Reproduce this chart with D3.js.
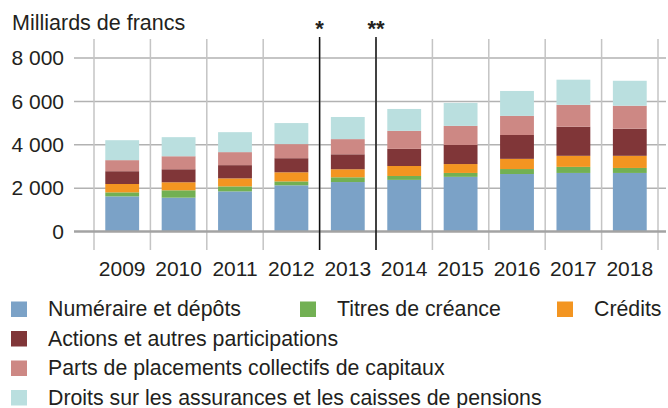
<!DOCTYPE html>
<html lang="fr">
<head>
<meta charset="UTF-8">
<title>Milliards de francs</title>
<script src="https://d3js.org/d3.v7.min.js"></script>
<style>
  body { margin: 0; background: #fff; }
  text { font-family: "Liberation Sans", Arial, sans-serif; fill: #231f20; }
</style>
</head>
<body>
<svg id="chart" width="668" height="408"></svg>
<script>
    // values, in milliards de francs
    const years = ["2009", "2010", "2011", "2012", "2013", "2014", "2015", "2016", "2017", "2018"];
    const numeraire = [1620, 1560, 1850, 2130, 2280, 2380, 2520, 2650, 2700, 2700];
    const titres = [185, 340, 230, 180, 220, 180, 180, 230, 280, 230];
    const credits = [385, 370, 370, 420, 370, 460, 410, 470, 510, 560];
    const actions = [590, 600, 610, 650, 690, 790, 880, 1100, 1340, 1250];
    const parts = [510, 600, 600, 650, 700, 830, 880, 880, 1010, 1060];
    const droits = [920, 880, 920, 970, 1020, 1010, 1060, 1150, 1160, 1150];

    const seriesNames = [
        "Numéraire et dépôts",
        "Titres de créance",
        "Crédits",
        "Actions et autres participations",
        "Parts de placements collectifs de capitaux",
        "Droits sur les assurances et les caisses de pensions"
    ];
    const colours = ["#7ba2c7", "#72b053", "#f39521", "#803638", "#cd8884", "#badfdf"];
    const yTicks = [0, 2000, 4000, 6000, 8000];
    const yTickLabels = ["0", "2 000", "4 000", "6 000", "8 000"];
    const marks = [{after: "2012", label: "*"}, {after: "2013", label: "**"}];

    const allSeries = [numeraire, titres, credits, actions, parts, droits];
    const table = years.map((year, i) => {
        let row = {year: year};
        seriesNames.forEach((name, k) => row[name] = allSeries[k][i]);
        return row;
    });

    const svg = d3.select("#chart");

    let x = d3.scaleBand()
        .domain(years)
        .range([94, 658])
        .paddingInner(0.4)
        .paddingOuter(0.2);
    let y = d3.scaleLinear()
        .domain([0, 8000])
        .range([231.5, 58]);

    const boundary = (i) => x.range()[0] + i * x.step();
    const gridTop = 39, tickBottom = 250;

    // horizontal grid
    svg.append("g")
        .selectAll("line")
        .data(yTicks.filter(d => d > 0))
        .join("line")
        .attr("x1", 74).attr("x2", 666)
        .attr("y1", d => y(d)).attr("y2", d => y(d))
        .attr("stroke", "#b2b2b2")
        .attr("stroke-width", 1.5);

    // vertical grid (category boundaries)
    svg.append("g")
        .selectAll("line")
        .data(d3.range(years.length + 1))
        .join("line")
        .attr("x1", boundary).attr("x2", boundary)
        .attr("y1", gridTop).attr("y2", tickBottom)
        .attr("stroke", "#c4c4c4")
        .attr("stroke-width", 1.5);

    // stacked bars
    let stacked = d3.stack().keys(seriesNames)(table);
    svg.append("g")
        .selectAll("g")
        .data(stacked)
        .join("g")
        .attr("fill", (d, i) => colours[i])
        .selectAll("rect")
        .data(d => d)
        .join("rect")
        .attr("x", d => x(d.data.year))
        .attr("width", x.bandwidth())
        .attr("y", d => y(d[1]))
        .attr("height", d => y(d[0]) - y(d[1]));

    // zero line
    svg.append("line")
        .attr("x1", 74).attr("x2", 666)
        .attr("y1", y(0)).attr("y2", y(0))
        .attr("stroke", "#a3a3a3")
        .attr("stroke-width", 2.5);

    // break markers
    marks.forEach(m => {
        let bx = x(m.after) + x.bandwidth() + x.step() * x.paddingInner() / 2;
        svg.append("line")
            .attr("x1", bx).attr("x2", bx)
            .attr("y1", 37).attr("y2", tickBottom)
            .attr("stroke", "#111")
            .attr("stroke-width", 1.5);
        svg.append("text")
            .attr("x", bx).attr("y", 36)
            .attr("text-anchor", "middle")
            .style("font-size", "22px")
            .style("font-weight", "bold")
            .text(m.label);
    });

    // y axis labels
    svg.append("g")
        .selectAll("text")
        .data(yTicks)
        .join("text")
        .attr("x", 64)
        .attr("y", d => y(d))
        .attr("dy", "0.35em")
        .attr("text-anchor", "end")
        .style("font-size", "21px")
        .text((d, i) => yTickLabels[i]);

    // x axis labels
    svg.append("g")
        .selectAll("text")
        .data(years)
        .join("text")
        .attr("x", d => x(d) + x.bandwidth() / 2)
        .attr("y", 276)
        .attr("text-anchor", "middle")
        .style("font-size", "21px")
        .text(d => d);

    svg.append("text")
        .attr("x", 12).attr("y", 30)
        .style("font-size", "21.5px")
        .text("Milliards de francs");

    // legend
    const legendPos = [[11, 0], [300, 0], [557, 0], [11, 1], [11, 2], [11, 3]];
    let legend = svg.append("g")
        .selectAll("g")
        .data(seriesNames)
        .join("g")
        .attr("transform", (d, i) => `translate(${legendPos[i][0]},${301.5 + legendPos[i][1] * 29.5})`);
    legend.append("rect")
        .attr("width", 16).attr("height", 15.5)
        .attr("fill", (d, i) => colours[i]);
    legend.append("text")
        .attr("x", 37).attr("y", 14.5)
        .style("font-size", "21.3px")
        .text(d => d);
</script>
</body>
</html>
